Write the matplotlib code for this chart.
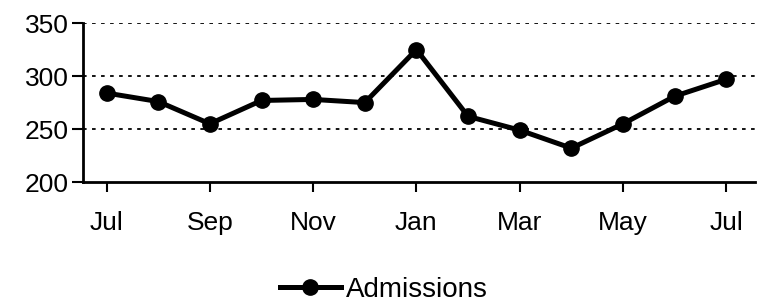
import matplotlib.pyplot as plt
import numpy as np

plt.rcParams['font.family'] = ['Liberation Sans', 'DejaVu Sans']

# Дані: щомісячні госпіталізації (липень - липень)
months = ['Jul', 'Aug', 'Sep', 'Oct', 'Nov', 'Dec', 'Jan',
          'Feb', 'Mar', 'Apr', 'May', 'Jun', 'Jul']
admissions = [284, 276, 255, 277, 278, 275, 325, 262, 249, 232, 255, 281, 297]

x = np.arange(len(months))

fig = plt.figure(figsize=(7.6, 3.04), dpi=100)
ax = fig.add_axes([0.109, 0.401, 0.884, 0.523])

ax.plot(x, admissions, color='black', linewidth=3.6, marker='o',
        markersize=11, label='Admissions', zorder=3)

# Налаштування осей
ax.set_xlim(-0.46, 12.55)
ax.set_ylim(200, 350)
ax.set_yticks([200, 250, 300, 350])
ax.set_xticks(x[::2])
ax.set_xticklabels(months[::2])

for y in [250, 300, 350]:
    ax.axhline(y, color='black', linestyle=(0, (2, 3)), linewidth=1.3, zorder=1)

ax.spines['top'].set_visible(False)
ax.spines['right'].set_visible(False)
ax.spines['left'].set_linewidth(2)
ax.spines['bottom'].set_linewidth(2)
ax.tick_params(axis='x', direction='out', length=7, width=1.5, pad=14, labelsize=19)
ax.tick_params(axis='y', direction='out', length=8, width=1.5, pad=2, labelsize=19)

fig.legend(loc='center', bbox_to_anchor=(0.505, 0.046), frameon=False,
           fontsize=20, handlelength=2.2, handletextpad=0.2)

fig.savefig('out.png', dpi=100)
